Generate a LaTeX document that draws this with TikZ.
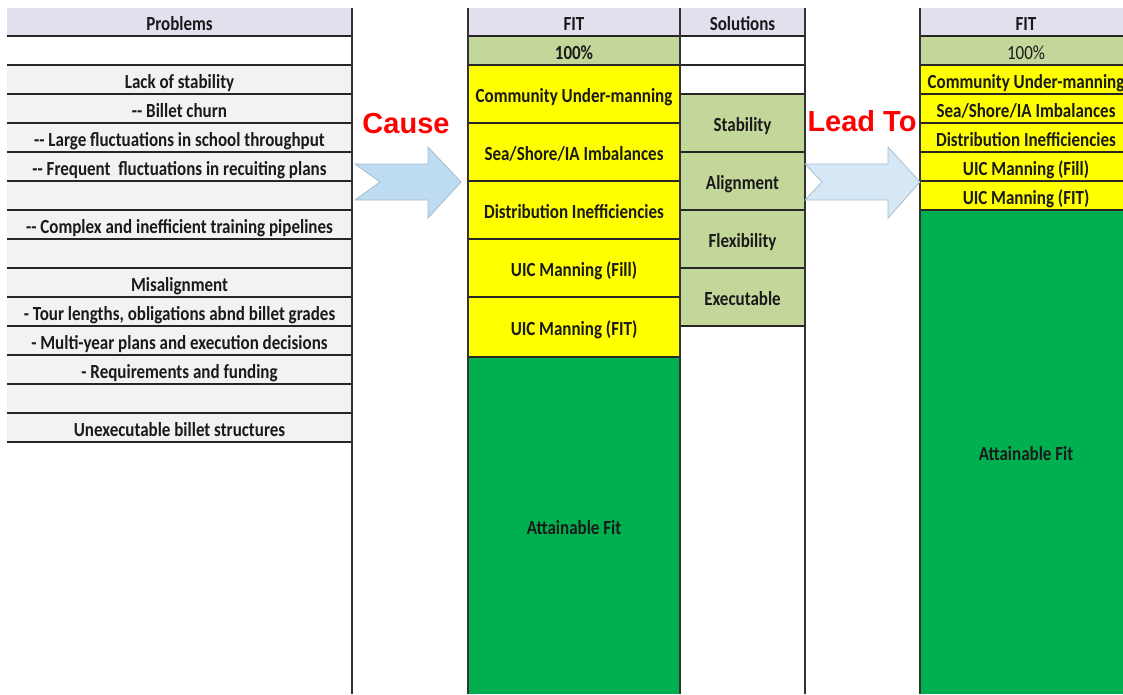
\documentclass[tikz,border=0pt]{standalone}
\usepackage{fontspec}
\newfontfamily\cellfont[FakeStretch=0.85]{Carlito}
\newfontfamily\redfont{Liberation Sans}
\definecolor{lav}{HTML}{E4DFEC}
\definecolor{lgrey}{HTML}{F2F2F2}
\definecolor{olive}{HTML}{C4D79B}
\definecolor{yel}{HTML}{FFFF00}
\definecolor{grn}{HTML}{00B050}
\definecolor{arrfill}{HTML}{BDDCF2}
\definecolor{arrfill2}{HTML}{D6E8F6}
\definecolor{arrline}{HTML}{A8BCCC}
\definecolor{txt}{HTML}{1A1A1A}
\tikzset{
  cell/.style={anchor=north west, inner sep=0pt, outer sep=0pt,
    text height=18.5pt, text depth=1pt,
    font=\cellfont\bfseries\fontsize{20}{22}\selectfont, text=txt},
  rule/.style={line width=2pt, draw=black!85},
  vrule/.style={line width=1.8pt, draw=black!80},
  bigred/.style={font=\redfont\bfseries\fontsize{29}{32}\selectfont, text=red},
  blockarrow/.style={draw=arrline, line width=0.8pt, fill=arrfill}
}
\begin{document}
\begin{tikzpicture}[x=1pt,y=-1pt]
\useasboundingbox (0,0) rectangle (1123,694);
\clip (0,0) rectangle (1123,694);
\fill[white] (0,0) rectangle (1123,694);
% ---------- Problems column ----------
\node[cell, fill=lav, minimum width=345pt, minimum height=28pt] (ph) at (7,8) {Problems};
\node[cell, fill=white, minimum width=345pt, minimum height=29pt] (p1) at (7,36) {};
\node[cell, fill=lgrey, minimum width=345pt, minimum height=29pt] (p2) at (7,65) {Lack of stability};
\node[cell, fill=lgrey, minimum width=345pt, minimum height=29pt] (p3) at (7,94) {-{}- Billet churn};
\node[cell, fill=lgrey, minimum width=345pt, minimum height=29pt] (p4) at (7,123) {-{}- Large fluctuations in school throughput};
\node[cell, fill=lgrey, minimum width=345pt, minimum height=29pt] (p5) at (7,152) {-{}- Frequent~ fluctuations in recuiting plans};
\node[cell, fill=lgrey, minimum width=345pt, minimum height=29pt] (p6) at (7,181) {};
\node[cell, fill=lgrey, minimum width=345pt, minimum height=29pt] (p7) at (7,210) {-{}- Complex and inefficient training pipelines};
\node[cell, fill=lgrey, minimum width=345pt, minimum height=29pt] (p8) at (7,239) {};
\node[cell, fill=lgrey, minimum width=345pt, minimum height=29pt] (p9) at (7,268) {Misalignment};
\node[cell, fill=lgrey, minimum width=345pt, minimum height=29pt] (p10) at (7,297) {- Tour lengths, obligations abnd billet grades};
\node[cell, fill=lgrey, minimum width=345pt, minimum height=29pt] (p11) at (7,326) {- Multi-year plans and execution decisions};
\node[cell, fill=lgrey, minimum width=345pt, minimum height=29pt] (p12) at (7,355) {- Requirements and funding};
\node[cell, fill=lgrey, minimum width=345pt, minimum height=29pt] (p13) at (7,384) {};
\node[cell, fill=lgrey, minimum width=345pt, minimum height=29pt] (p14) at (7,413) {Unexecutable billet structures};
\foreach \y in {36,65,94,123,152,181,210,239,268,297,326,355,384,413,442}
  \draw[rule] (7,\y) -- (352,\y);
% ---------- FIT column ----------
\node[cell, fill=lav, minimum width=212pt, minimum height=28pt] (fh) at (468,8) {FIT};
\node[cell, fill=olive, minimum width=212pt, minimum height=29pt] (f0) at (468,36) {100\%};
\node[cell, fill=yel, minimum width=212pt, minimum height=58pt] (f1) at (468,65) {Community Under-manning};
\node[cell, fill=yel, minimum width=212pt, minimum height=58pt] (f2) at (468,123) {Sea/Shore/IA Imbalances};
\node[cell, fill=yel, minimum width=212pt, minimum height=58pt] (f3) at (468,181) {Distribution Inefficiencies};
\node[cell, fill=yel, minimum width=212pt, minimum height=58pt] (f4) at (468,239) {UIC Manning (Fill)};
\node[cell, fill=yel, minimum width=212pt, minimum height=60pt] (f5) at (468,297) {UIC Manning (FIT)};
\node[cell, fill=grn, minimum width=212pt, minimum height=337pt] (f6) at (468,357) {Attainable Fit};
\foreach \y in {36,65,123,181,239,297,357}
  \draw[rule] (468,\y) -- (680,\y);
% ---------- Solutions column ----------
\node[cell, fill=lav, minimum width=125pt, minimum height=28pt] (sh) at (680,8) {Solutions};
\node[cell, fill=white, minimum width=125pt, minimum height=58pt] (s0) at (680,36) {};
\node[cell, fill=olive, minimum width=125pt, minimum height=58pt] (s1) at (680,94) {Stability};
\node[cell, fill=olive, minimum width=125pt, minimum height=58pt] (s2) at (680,152) {Alignment};
\node[cell, fill=olive, minimum width=125pt, minimum height=58pt] (s3) at (680,210) {Flexibility};
\node[cell, fill=olive, minimum width=125pt, minimum height=58pt] (s4) at (680,268) {Executable};
\foreach \y in {36,65,94,152,210,268,326}
  \draw[rule] (680,\y) -- (805,\y);
% ---------- second FIT column ----------
\node[cell, fill=lav, minimum width=212pt, minimum height=28pt] (gh) at (920,8) {FIT};
\node[cell, fill=olive, minimum width=212pt, minimum height=29pt, font=\cellfont\fontsize{20}{22}\selectfont] (g0) at (920,36) {100\%};
\node[cell, fill=yel, minimum width=212pt, minimum height=29pt] (g1) at (920,65) {Community Under-manning};
\node[cell, fill=yel, minimum width=212pt, minimum height=29pt] (g2) at (920,94) {Sea/Shore/IA Imbalances};
\node[cell, fill=yel, minimum width=212pt, minimum height=29pt] (g3) at (920,123) {Distribution Inefficiencies};
\node[cell, fill=yel, minimum width=212pt, minimum height=29pt] (g4) at (920,152) {UIC Manning (Fill)};
\node[cell, fill=yel, minimum width=212pt, minimum height=29pt] (g5) at (920,181) {UIC Manning (FIT)};
\node[cell, fill=grn, minimum width=212pt, minimum height=484pt] (g6) at (920,210) {};
\node[cell, anchor=center] (g6t) at (1026,452) {Attainable Fit};
\foreach \y in {36,65,94,123,152,181,210}
  \draw[rule] (920,\y) -- (1132,\y);
% ---------- vertical borders ----------
\foreach \x in {352,468,680,805,920}
  \draw[vrule] (\x,8) -- (\x,694);
% ---------- arrows and labels ----------
\node[bigred] (cause) at (406,124) {Cause};
\node[bigred] (leadto) at (862,121) {Lead To};
\draw[blockarrow] (355,164) -- (428,164) -- (428,147) -- (461,182) -- (428,218)
  -- (428,200) -- (355,200) -- (380,182) -- cycle;
\draw[blockarrow, fill=arrfill2] (805,164) -- (888,164) -- (888,147) -- (920,182) -- (888,218)
  -- (888,200) -- (805,200) -- (822,182) -- cycle;
\end{tikzpicture}
\end{document}
